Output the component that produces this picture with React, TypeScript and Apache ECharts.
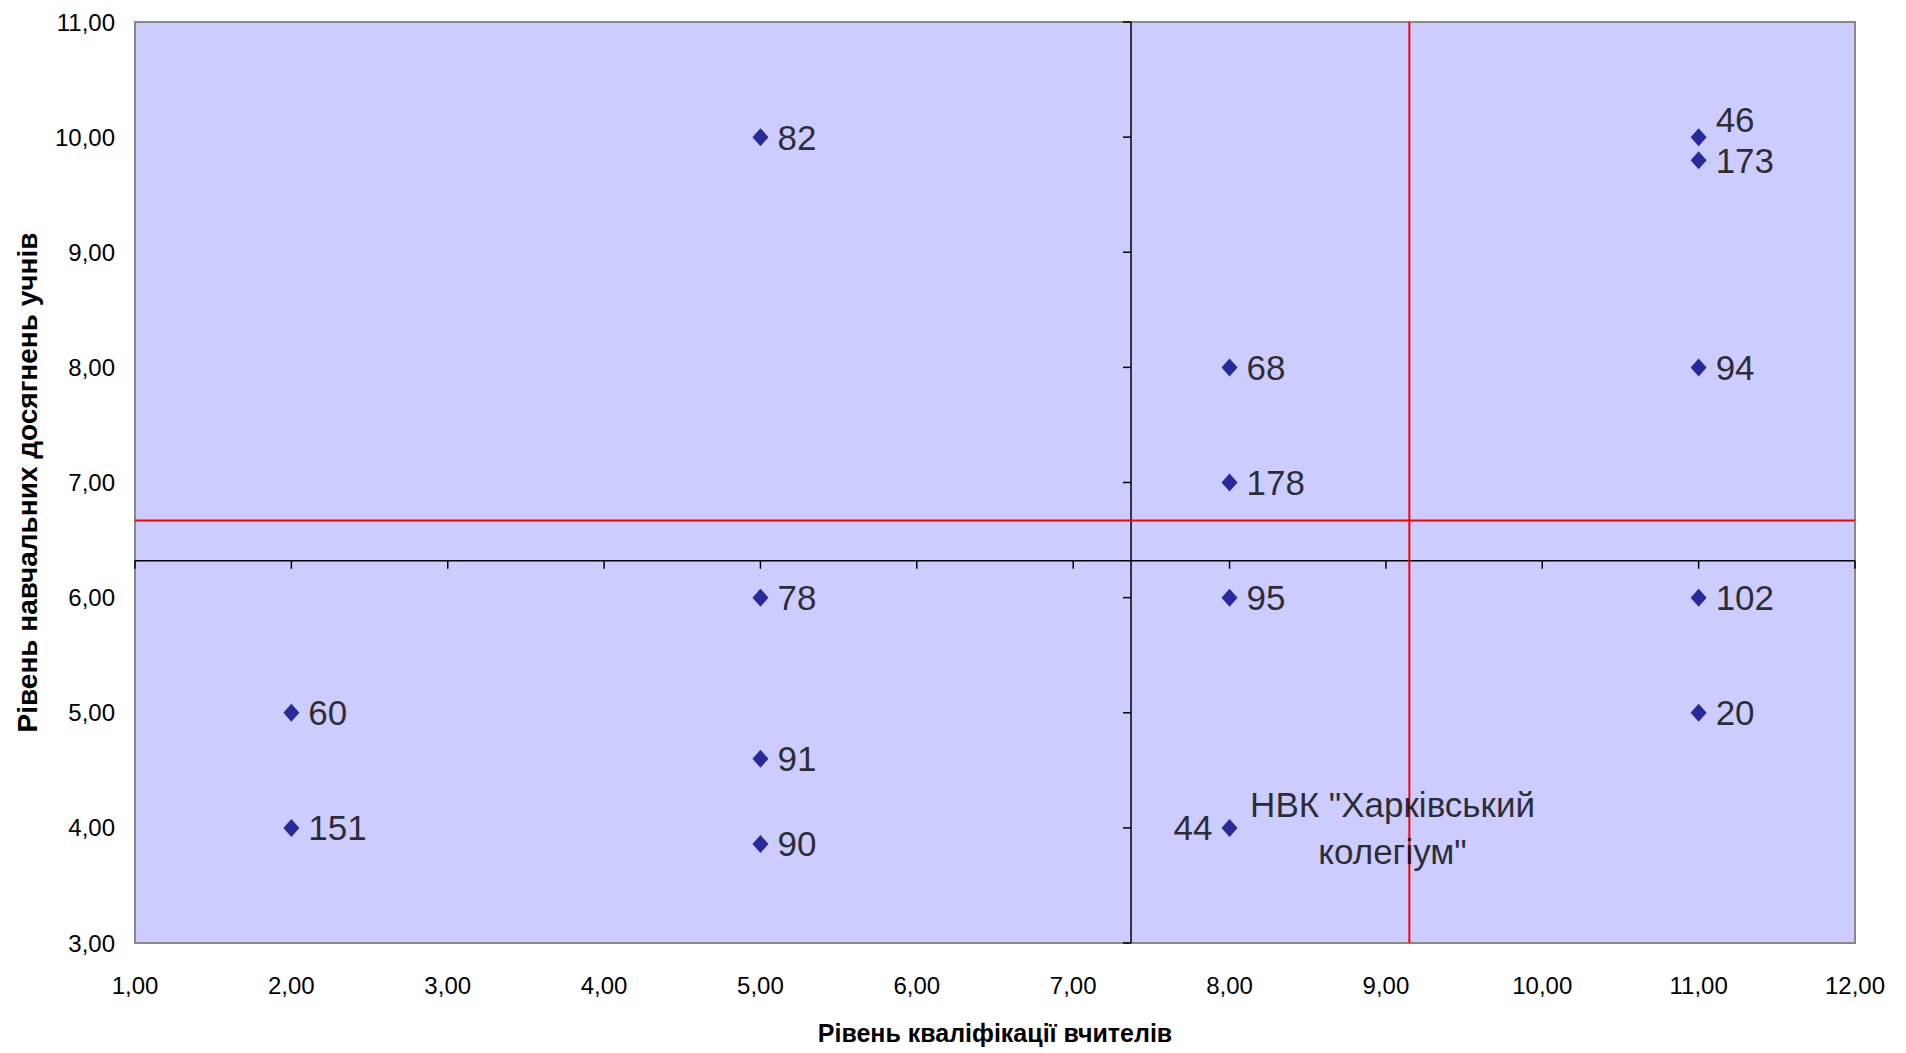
import React, { useEffect, useRef } from "react";
import * as echarts from "echarts";

const xAxisTitle = "Рівень кваліфікації вчителів";
const yAxisTitle = "Рівень навчальних досягнень учнів";

const schoolIds = ["82", "46", "173", "68", "94", "178", "78", "95", "102", "60", "91", "20", "151", "90", "44"];
const teacherLevel = [5, 11, 11, 8, 11, 8, 5, 8, 11, 2, 5, 11, 2, 5, 8];
const studentLevel = [10, 10, 9.8, 8, 8, 7, 6, 6, 6, 5, 4.6, 5, 4, 3.86, 4];

const highlightId = "44";
const highlightName = 'НВК "Харківський\nколегіум"';

const xTicks = [1, 2, 3, 4, 5, 6, 7, 8, 9, 10, 11, 12];
const yTicks = [3, 4, 5, 6, 7, 8, 9, 10, 11];

// internal (crossing) axes and red reference lines
const crossX = 7.37;
const crossY = 6.32;
const refX = 9.15;
const refY = 6.67;

const FONT = "'Liberation Sans', Arial, sans-serif";
const fmt = (v: number) => v.toFixed(2).replace(".", ",");

export default function App() {
  const ref = useRef<HTMLDivElement>(null);

  useEffect(() => {
    if (!ref.current) return;
    const chart = echarts.init(ref.current, null, { renderer: "svg" });

    const xMin = xTicks[0];
    const xMax = xTicks[xTicks.length - 1];
    const yMin = yTicks[0];
    const yMax = yTicks[yTicks.length - 1];

    const data = schoolIds.map((id, i) => {
      const item: any = { name: id, value: [teacherLevel[i], studentLevel[i]] };
      if (id === "46") item.label = { offset: [0, -18] };
      if (id === highlightId) item.label = { position: "left" };
      return item;
    });

    const hiIdx = schoolIds.indexOf(highlightId);

    chart.setOption({
      animation: false,
      backgroundColor: "#ffffff",
      textStyle: { fontFamily: FONT },
      grid: {
        left: 135,
        right: 51,
        top: 22,
        bottom: 110,
        show: true,
        backgroundColor: "#CCCCFF",
        borderColor: "#888888",
        borderWidth: 2,
      },
      xAxis: {
        type: "value",
        min: xMin,
        max: xMax,
        interval: 1,
        axisLine: { show: false },
        axisTick: { show: false },
        splitLine: { show: false },
        axisLabel: { formatter: fmt, color: "#000", fontSize: 24, margin: 30, fontFamily: FONT },
        name: xAxisTitle,
        nameLocation: "middle",
        nameGap: 77,
        nameTextStyle: { color: "#000", fontSize: 25, fontWeight: "bold", fontFamily: FONT },
      },
      yAxis: {
        type: "value",
        min: yMin,
        max: yMax,
        interval: 1,
        axisLine: { show: false },
        axisTick: { show: false },
        splitLine: { show: false },
        axisLabel: { formatter: fmt, color: "#000", fontSize: 24, margin: 20, fontFamily: FONT },
        name: yAxisTitle,
        nameLocation: "middle",
        nameGap: 94,
        nameRotate: 90,
        nameTextStyle: { color: "#000", fontSize: 28, fontWeight: "bold", fontFamily: FONT },
      },
      series: [
        {
          type: "custom",
          coordinateSystem: "cartesian2d",
          silent: true,
          z: 1,
          data: [[xMin, yMin]],
          renderItem: (_params: any, api: any) => {
            const p = (x: number, y: number) => api.coord([x, y]);
            const line = (a: number[], b: number[], stroke: string, w: number) => ({
              type: "line",
              shape: { x1: a[0], y1: a[1], x2: b[0], y2: b[1] },
              style: { stroke, lineWidth: w },
            });
            const children: any[] = [];
            children.push(line(p(xMin, crossY), p(xMax, crossY), "#000", 1.5));
            children.push(line(p(crossX, yMin), p(crossX, yMax), "#000", 1.5));
            xTicks.forEach((t) => {
              const a = p(t, crossY);
              children.push(line(a, [a[0], a[1] + 8], "#000", 1.5));
            });
            yTicks.forEach((t) => {
              const a = p(crossX, t);
              children.push(line(a, [a[0] - 8, a[1]], "#000", 1.5));
            });
            children.push(line(p(xMin, refY), p(xMax, refY), "#FF0000", 2));
            children.push(line(p(refX, yMin), p(refX, yMax), "#FF0000", 2));
            return { type: "group", children };
          },
        },
        {
          type: "scatter",
          z: 3,
          symbol: "diamond",
          symbolSize: [16, 18],
          itemStyle: { color: "#000080" },
          label: {
            show: true,
            position: "right",
            distance: 9,
            formatter: (p: any) => p.name,
            color: "#000",
            fontSize: 35,
            fontFamily: FONT,
          },
          data,
        },
        {
          type: "scatter",
          z: 2,
          silent: true,
          symbolSize: 0,
          data: [
            {
              name: highlightName,
              value: [teacherLevel[hiIdx], studentLevel[hiIdx]],
            },
          ],
          label: {
            show: true,
            position: "inside",
            offset: [163, 0],
            align: "center",
            verticalAlign: "middle",
            formatter: (p: any) => p.name,
            color: "#000",
            fontSize: 35,
            lineHeight: 47,
            fontFamily: FONT,
          },
        },
      ],
    });

    return () => chart.dispose();
  }, []);

  return (
    <div
      ref={ref}
      style={{ position: "absolute", left: 0, top: 0, width: 1906, height: 1053 }}
    />
  );
}
